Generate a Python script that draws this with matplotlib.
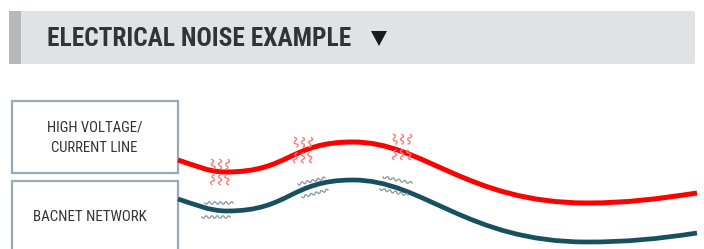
import numpy as np
import matplotlib
matplotlib.use("Agg")
import matplotlib.pyplot as plt
from matplotlib.path import Path
from matplotlib.patches import PathPatch, Rectangle, FancyBboxPatch, Polygon

# ---- content ----
title = "ELECTRICAL NOISE EXAMPLE"
box_labels = ["HIGH VOLTAGE/\nCURRENT LINE", "BACNET NETWORK"]

# anchor points (x, y) of the two cables, in pixel units (y down)
red_x = [178, 226, 353, 587, 697]
red_y = [160, 172, 142, 203, 193]
teal_x = [178, 227, 353, 587, 697]
teal_y = [199, 211, 180, 242, 233]

# noise groups: centre x, curve y
red_noise_x = [220, 303, 402]
red_noise_y = [172, 150, 147]
gray_noise = [  # (x0, y0, x1, y1) for each wavy segment
    (205, 203, 233, 203), (202, 217, 230, 217),
    (298, 184, 325, 178), (302, 197, 328, 190),
    (383, 177, 412, 183), (380, 189, 408, 195),
]

RED = "#ff0000"
TEAL = "#17505e"
NOISE_RED = "#ff7a7a"
NOISE_GRAY = "#8e9ca7"
BOX_EDGE = "#9aa9b4"
TXT = "#333333"

FONT = ["Liberation Sans Narrow", "Roboto Condensed", "DejaVu Sans"]

fig = plt.figure(figsize=(7.04, 2.49), dpi=100)
ax = fig.add_axes([0, 0, 1, 1])
ax.set_xlim(0, 704)
ax.set_ylim(249, 0)
ax.axis("off")

# header
ax.add_patch(FancyBboxPatch((9, 11), 686, 53, boxstyle="round,pad=0,rounding_size=2",
                            fc="#e1e2e4", ec="none"))
ax.add_patch(Rectangle((9, 11), 12, 53, fc="#b6b8bb", ec="none"))
ax.text(47, 38.5, title, fontsize=18.3, fontweight="bold", color=TXT,
        family=FONT, va="center", ha="left")
ax.add_patch(Polygon([(371, 31), (387, 31), (379, 46)], closed=True, fc="#1a1a1a", ec="none"))

# boxes
ax.add_patch(Rectangle((12, 101), 166, 72, fc="white", ec=BOX_EDGE, lw=1.6))
ax.add_patch(Rectangle((12, 181), 166, 80, fc="white", ec=BOX_EDGE, lw=1.6, clip_on=True))
ax.text(94.5, 137.5, box_labels[0], fontsize=10.6, color=TXT, family=FONT,
        ha="center", va="center", linespacing=1.55)
ax.text(90, 217, box_labels[1], fontsize=10.8, color=TXT, family=FONT,
        ha="center", va="center")


def cable_path(xs, ys):
    # cubic Bezier segments with horizontal tangents at the extrema
    verts = [(xs[0], ys[0])]
    codes = [Path.MOVETO]
    verts += [(xs[0] + 16, ys[0] + 5), (xs[1] - 18, ys[1]), (xs[1], ys[1])]
    d = (xs[2] - xs[1]) * 0.5
    verts += [(xs[1] + d, ys[1]), (xs[2] - d, ys[2]), (xs[2], ys[2])]
    verts += [(xs[2] + 70, ys[2]), (xs[3] - 120, ys[3]), (xs[3], ys[3])]
    verts += [(xs[3] + 40, ys[3]), (xs[4] - 40, ys[4] + 6), (xs[4], ys[4])]
    codes += [Path.CURVE4] * 12
    return Path(verts, codes)


ax.add_patch(PathPatch(cable_path(red_x, red_y), fc="none", ec=RED, lw=3.6,
                       capstyle="butt", zorder=3))
ax.add_patch(PathPatch(cable_path(teal_x, teal_y), fc="none", ec=TEAL, lw=3.4,
                       capstyle="butt", zorder=3))


def wavy(x0, y0, x1, y1, amp, periods, **kw):
    t = np.linspace(0, 1, 80)
    dx, dy = x1 - x0, y1 - y0
    L = np.hypot(dx, dy)
    nx, ny = -dy / L, dx / L
    off = amp * np.sin(2 * np.pi * periods * t)
    ax.plot(x0 + dx * t + nx * off, y0 + dy * t + ny * off, **kw)


# red noise sparks
for cx, cy in zip(red_noise_x, red_noise_y):
    for side in (-1, 1):
        for k, dxk in enumerate((-6, 0, 6)):
            ya = cy + side * 3
            yb = cy + side * 12.5
            tilt = dxk * 0.4
            wavy(cx + dxk, ya, cx + dxk + tilt, yb, 1.6, 1.5,
                 color=NOISE_RED, lw=1.0, zorder=4)

# gray noise
for (x0, y0, x1, y1) in gray_noise:
    wavy(x0, y0, x1, y1, 1.2, 5, color=NOISE_GRAY, lw=1.0, zorder=4)

fig.savefig("out.png", dpi=100)
